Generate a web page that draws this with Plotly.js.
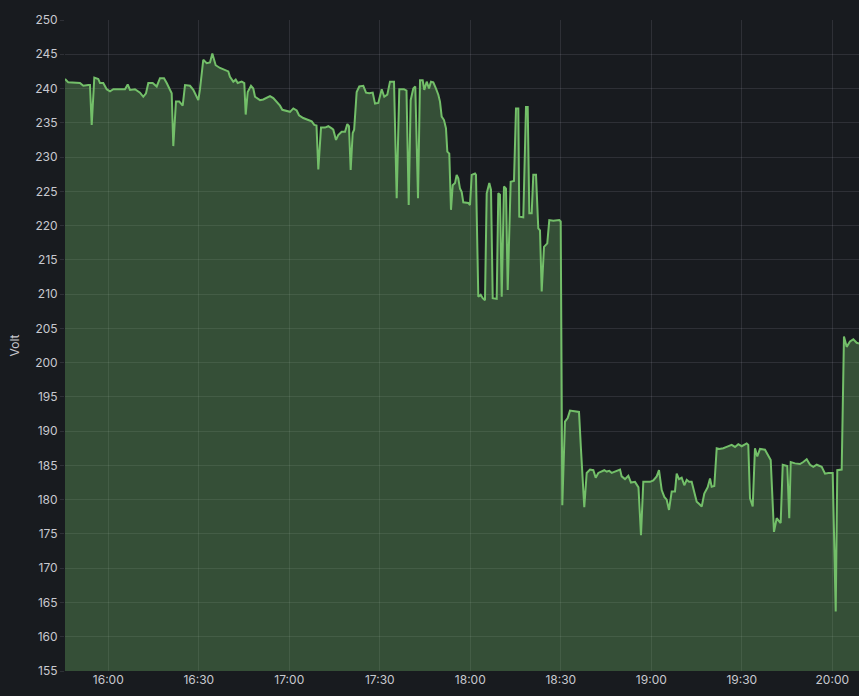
<!DOCTYPE html>
<html>
<head>
<meta charset="utf-8">
<script src="https://cdn.plot.ly/plotly-3.0.1.min.js"></script>
<style>
  html, body { margin: 0; padding: 0; background: #181b1f; }
  #chart { width: 859px; height: 696px; }
</style>
</head>
<body>
<div id="chart"></div>
<script>
const day = "2024-01-01 ";
const times = [
  "15:45:39","15:46:44","15:50:37","15:51:43","15:53:22","15:53:56","15:54:30","15:55:22","15:56:41","15:57:15",
  "15:58:20","15:59:28","16:00:34","16:01:40","16:05:32","16:06:26","16:07:12","16:08:51","16:10:31","16:11:36",
  "16:12:30","16:13:16","16:14:43","16:16:03","16:17:08","16:18:28","16:19:22","16:20:27","16:21:01","16:21:33",
  "16:22:26","16:23:32","16:24:40","16:25:26","16:27:05","16:28:11","16:29:18","16:29:50","16:30:24","16:31:29",
  "16:32:37","16:33:43","16:34:29","16:35:36","16:37:02","16:38:41","16:39:47","16:40:20","16:41:26","16:42:14",
  "16:42:54","16:44:13","16:45:05","16:45:33","16:46:13","16:47:18","16:48:04","16:48:38","16:50:17","16:51:23",
  "16:52:31","16:53:36","16:54:42","16:55:49","16:56:55","16:57:41","16:59:08","17:00:14","17:01:20","17:02:27",
  "17:03:13","17:04:38","17:06:18","17:07:26","17:08:17","17:09:01","17:09:37","17:10:31","17:11:50","17:12:56",
  "17:14:04","17:14:35","17:15:29","17:16:14","17:17:22","17:18:28","17:19:14","17:19:47","17:20:21","17:21:01",
  "17:21:30","17:22:20","17:23:12","17:24:32","17:25:26","17:26:31","17:27:39","17:28:25","17:29:30","17:30:38",
  "17:31:29","17:32:29","17:33:23","17:34:43","17:35:36","17:36:28","17:38:01","17:38:51","17:39:35","17:40:14",
  "17:41:06","17:41:46","17:42:40","17:43:20","17:44:13","17:44:45","17:45:33","17:46:19","17:46:58","17:47:44",
  "17:48:38","17:49:24","17:49:57","17:50:31","17:51:17","17:51:56","17:52:23","17:53:02","17:53:36","17:54:10",
  "17:54:56","17:55:29","17:56:01","17:56:35","17:57:09","17:57:41","17:59:20","17:59:54","18:00:28","18:01:34",
  "18:01:53","18:02:39","18:03:27","18:04:07","18:04:52","18:05:26","18:06:18","18:06:52","18:07:26","18:08:45",
  "18:09:17","18:09:50","18:10:25","18:11:10","18:11:50","18:12:24","18:13:23","18:14:29","18:15:09","18:15:55",
  "18:16:14","18:17:34","18:18:28","18:19:02","18:19:34","18:20:21","18:20:53","18:21:47","18:22:32","18:23:06",
  "18:23:40","18:24:26","18:25:31","18:26:11","18:27:31","18:29:30","18:29:58","18:30:30","18:31:23","18:32:17",
  "18:33:03","18:34:43","18:36:02","18:36:41","18:37:47","18:38:35","18:39:41","18:40:47","18:41:34","18:42:26",
  "18:43:34","18:44:25","18:45:13","18:46:05","18:46:53","18:47:58","18:49:38","18:50:11","18:51:17","18:52:23",
  "18:53:16","18:54:36","18:55:10","18:55:45","18:56:35","18:57:21","18:59:34","19:00:40","19:01:47","19:02:33",
  "19:03:27","19:04:19","19:05:06","19:05:52","19:06:46","19:07:51","19:08:25","19:09:11","19:10:04","19:10:56",
  "19:11:44","19:12:30","19:13:23","19:14:15","19:15:03","19:15:49","19:16:43","19:17:34","19:18:41","19:19:28",
  "19:20:01","19:20:53","19:21:41","19:22:33","19:23:52","19:24:59","19:26:39","19:27:45","19:28:50","19:29:58",
  "19:31:37","19:32:09","19:32:43","19:33:37","19:34:22","19:35:08","19:36:02","19:37:41","19:38:47","19:39:35",
  "19:40:40","19:41:34","19:42:06","19:42:53","19:43:34","19:45:05","19:45:44","19:46:13","19:47:38","19:49:17",
  "19:50:23","19:51:31","19:52:37","19:53:42","19:54:50","19:56:29","19:57:35","19:58:41","20:00:08","20:01:08",
  "20:01:39","20:03:07","20:03:52","20:04:46","20:05:52","20:06:58","20:08:05","20:08:51"
];
const volts = [
  241.4,240.9,240.8,240.4,240.5,240.5,234.7,241.6,241.4,240.8,
  240.8,239.9,239.6,239.9,239.9,240.6,239.8,239.9,239.4,238.8,
  239.3,240.8,240.8,240.3,241.5,241.5,240.8,239.8,239.3,231.6,
  238.1,238.1,237.5,240.5,240.4,239.8,238.6,238.3,239.9,244.2,
  243.7,243.8,245.1,243.4,243.0,242.7,242.5,241.7,241.0,241.3,
  240.8,241.0,240.8,236.2,239.5,240.4,240.0,238.8,238.3,238.4,
  238.7,238.9,238.6,238.1,237.5,236.9,236.7,236.6,237.1,236.8,
  236.1,235.7,235.4,235.2,234.7,234.6,228.2,234.3,234.3,234.5,
  234.2,234.0,232.5,233.2,233.7,233.7,234.8,234.5,228.1,233.5,
  234.0,239.5,240.3,240.4,239.4,239.3,239.4,237.8,237.9,239.9,
  238.8,239.1,241.0,241.0,224.0,239.9,239.9,239.7,223.0,238.3,
  240.0,240.3,224.0,241.2,241.2,239.8,241.0,240.0,241.0,240.9,
  240.0,239.1,238.1,235.9,235.4,234.2,230.8,230.5,222.3,225.9,
  226.2,227.4,226.9,225.4,224.9,223.4,223.3,223.0,227.4,227.6,
  227.4,209.6,209.9,209.4,209.1,224.7,226.2,225.2,209.4,209.3,
  224.7,224.5,209.6,225.7,225.4,210.6,226.4,226.5,237.1,237.1,
  221.3,221.2,237.3,237.3,221.8,221.8,227.4,227.4,219.6,219.3,
  210.4,216.9,217.4,220.8,220.7,220.8,220.6,179.2,191.4,191.9,
  193.0,192.9,192.8,187.4,178.9,183.9,184.4,184.3,183.2,183.9,
  184.1,184.3,184.1,184.2,183.9,184.1,184.4,183.4,183.0,183.5,
  182.5,182.6,182.1,181.8,174.8,182.6,182.6,182.8,183.4,184.3,
  181.4,180.4,180.0,178.5,181.2,181.2,183.8,183.0,183.2,182.1,
  182.9,182.6,182.6,180.9,179.7,179.4,179.0,180.9,181.8,183.1,
  181.9,182.0,187.5,187.4,187.5,187.7,188.0,187.7,188.1,187.8,
  188.2,188.0,180.2,179.0,187.5,186.3,187.4,187.3,186.5,185.8,
  175.3,177.3,177.0,176.6,185.1,184.9,177.3,185.5,185.3,185.2,
  185.5,185.9,185.1,184.8,185.1,184.8,183.8,183.9,183.9,163.7,
  184.3,184.4,203.8,202.3,203.1,203.4,202.9,202.8
];
const seriesName = "Volt";
const yAxisTitle = "Volt";
const xRange = ["15:45:39", "20:08:51"];
const yRange = [155, 250];

const textColor = "#c8c9cf";
const gridColor = "rgba(204,204,220,0.12)";

const trace = {
  type: "scatter",
  mode: "lines",
  name: seriesName,
  x: times.map(t => day + t),
  y: volts,
  line: { color: "#73BF69", width: 2, shape: "linear" },
  fill: "tozeroy",
  fillcolor: "rgba(115,191,105,0.32)",
  hoverinfo: "x+y"
};

const layout = {
  width: 859,
  height: 696,
  paper_bgcolor: "#181b1f",
  plot_bgcolor: "#181b1f",
  margin: { l: 65, r: 0, t: 20, b: 25 },
  showlegend: false,
  font: { family: "Inter, 'Noto Sans', sans-serif", size: 12, color: textColor },
  xaxis: {
    type: "date",
    range: xRange.map(t => day + t),
    tickformat: "%H:%M",
    dtick: 30 * 60 * 1000,
    tick0: day + "16:00:00",
    showgrid: true,
    gridcolor: gridColor,
    gridwidth: 1,
    zeroline: false,
    showline: false,
    ticks: "",
    tickfont: { size: 12, color: textColor }
  },
  yaxis: {
    range: yRange,
    dtick: 5,
    tick0: 155,
    showgrid: true,
    gridcolor: gridColor,
    gridwidth: 1,
    zeroline: false,
    showline: false,
    ticks: "outside",
    ticklen: 4,
    tickcolor: gridColor,
    tickfont: { size: 12, color: textColor },
    title: { text: yAxisTitle, standoff: 12, font: { size: 12, color: textColor } }
  }
};

Plotly.newPlot("chart", [trace], layout, { displayModeBar: false, staticPlot: true });
</script>
</body>
</html>
